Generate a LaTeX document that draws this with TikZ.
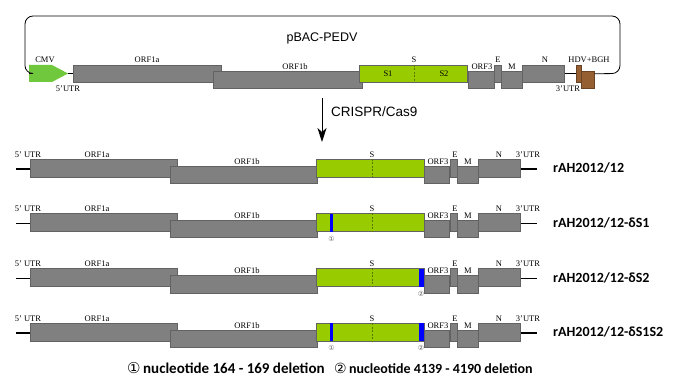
\documentclass[tikz,border=0pt]{standalone}
\usepackage{fontspec}
\usetikzlibrary{arrows.meta}
\setmainfont{Liberation Serif}
\newfontfamily\arialfont{Liberation Sans}
\newfontfamily\califont{Carlito}
\newfontfamily\circfont{DejaVu Sans}

\definecolor{orfgray}{RGB}{128,128,128}
\definecolor{orfedge}{RGB}{98,98,98}
\definecolor{sgreen}{RGB}{153,204,0}
\definecolor{sdash}{RGB}{90,120,0}
\definecolor{cmvgreen}{RGB}{112,200,60}
\definecolor{hdvbrown}{RGB}{150,95,50}
\definecolor{delblue}{RGB}{0,0,255}

\begin{document}
\begin{tikzpicture}[x=1pt, y=-1pt,
    orf/.style 2 args = {draw=orfedge, fill=orfgray, line width=0.5pt, inner sep=0pt,
        anchor=north west, minimum width=#1pt, minimum height=#2pt},
    sgene/.style 2 args = {orf={#1}{#2}, fill=sgreen},
    hdv/.style 2 args = {orf={#1}{#2}, fill=hdvbrown, draw=hdvbrown!70!black},
    del/.style = {fill=delblue, inner sep=0pt, anchor=north west,
        minimum width=3.5pt, minimum height=18pt},
    lab/.style = {font=\fontsize{8.5}{10}\selectfont, inner sep=0pt, anchor=south},
    circ/.style = {font=\circfont\fontsize{7}{8}\selectfont, text=black!60, inner sep=0pt},
    stub/.style = {line width=1.6pt},
    rowname/.style = {font=\califont\bfseries\fontsize{14}{16}\selectfont, inner sep=0pt, anchor=west},
    legend/.style = {font=\califont\bfseries\fontsize{15}{17}\selectfont, inner sep=0pt, anchor=west}]
    \useasboundingbox (0,0) rectangle (683,382);

    % pBAC-PEDV construct
    \fill[cmvgreen] (29,65) -- (52,65) -- (68,73.5) -- (52,82) -- (29,82) -- cycle;
    \coordinate (cmvtail) at (29,73.5);
    \coordinate (cmvtip) at (68,73.5);
    \node[orf={148}{17}] (a0) at (73,65) {};
    \node[orf={149}{17}] (b0) at (213,71) {};
    \node[sgene={108}{17}] (s0) at (359,65) {};
    \node[orf={26}{17}] (o0) at (468,71) {};
    \node[orf={7}{17}] (e0) at (494,65) {};
    \node[orf={21}{17}] (m0) at (501,71) {};
    \node[orf={42}{17}] (n0) at (522,65) {};
    \node[hdv={5}{17}] (hdv) at (576,65) {};
    \node[hdv={13}{17}] (bgh) at (581,71) {};
    \draw[sdash, dash pattern=on 2pt off 1.5pt] (s0.north -| 414,0) -- (s0.south -| 414,0);

    \draw[line width=0.8pt] (cmvtip) -- (a0.west |- cmvtip);
    \draw[line width=0.8pt] (n0.east) -- (hdv.west);
    \draw[line width=0.8pt, rounded corners=8pt] (bgh.east |- hdv.east) -- (620,73.5)
        -- (620,16) -- (25,16) -- (25,73.5) -- (cmvtail);

    \node[font=\arialfont\fontsize{12.5}{14}\selectfont] (title) at (322,38) {pBAC-PEDV};
    \node[lab] (lcmv) at (45,63) {CMV};
    \node[lab] (la0) at (147,63) {ORF1a};
    \node[lab] (lb0) at (295,69.5) {ORF1b};
    \node[lab] (ls0) at (414,63) {S};
    \node[lab, anchor=center] (ls1) at (388,73.5) {S1};
    \node[lab, anchor=center] (ls2) at (444,73.5) {S2};
    \node[lab] (lo0) at (482,69.5) {ORF3};
    \node[lab] (le0) at (498,63) {E};
    \node[lab] (lm0) at (512,69.5) {M};
    \node[lab] (ln0) at (545,63) {N};
    \node[lab] (lhdv) at (589,63) {HDV+BGH};
    \node[lab, anchor=north] (l5u0) at (68,85.5) {5’UTR};
    \node[lab, anchor=north] (l3u0) at (568,85.5) {3’UTR};

    % CRISPR/Cas9 step
    \coordinate (arrtop) at (322,98);
    \coordinate (arrbot) at (322,142);
    \draw[line width=0.9pt, -{Stealth[length=14pt, width=9pt, inset=4pt]}] (arrtop) -- (arrbot);
    \node[font=\arialfont\fontsize{13.5}{15}\selectfont, inner sep=0pt, anchor=west]
        (crispr) at (331,112) {CRISPR/Cas9};

    % recombinant genomes
    \foreach \r/\y/\nm in {1/159/{rAH2012/12}, 2/213.5/{rAH2012/12-δS1},
                           3/268.5/{rAH2012/12-δS2}, 4/323/{rAH2012/12-δS1S2}} {
        \node[orf={147}{18}] (a\r) at (30,\y) {};
        \node[orf={147}{17}] (b\r) at (170,\y+7) {};
        \node[sgene={108}{18}] (s\r) at (316,\y) {};
        \node[orf={25}{17}] (o\r) at (424,\y+7) {};
        \node[orf={7}{18}] (e\r) at (450,\y) {};
        \node[orf={21}{17}] (m\r) at (457,\y+7) {};
        \node[orf={42}{18}] (n\r) at (478,\y) {};
        \coordinate (u5\r) at (16,\y+10);
        \coordinate (u3\r) at (537,\y+10);
        \draw[stub] (u5\r) -- (a\r.west |- u5\r);
        \draw[stub] (n\r.east |- u3\r) -- (u3\r);
        \draw[sdash, dash pattern=on 2pt off 1.5pt] (s\r.north -| 372,0) -- (s\r.south -| 372,0);

        \node[lab] (l5u\r) at (28,\y-1.5) {5’ UTR};
        \node[lab] (la\r) at (97,\y-1.5) {ORF1a};
        \node[lab] (lb\r) at (247,\y+5.5) {ORF1b};
        \node[lab] (ls\r) at (372,\y-1.5) {S};
        \node[lab] (lo\r) at (438,\y+5.5) {ORF3};
        \node[lab] (le\r) at (455,\y-1.5) {E};
        \node[lab] (lm\r) at (468,\y+5.5) {M};
        \node[lab] (ln\r) at (499,\y-1.5) {N};
        \node[lab] (l3u\r) at (528,\y-1.5) {3’UTR};
        \node[rowname] (name\r) at (553,\y+9) {\nm};
    }

    % deleted regions
    \node[del] (d1r2) at (329.5,213.5) {};
    \node[circ] (c1r2) at (331.5,238.5) {①};
    \node[del, minimum width=5.5pt] (d2r3) at (418.5,268.5) {};
    \node[circ] (c2r3) at (421,293.5) {②};
    \node[del] (d1r4) at (329.5,323) {};
    \node[circ] (c1r4) at (331.5,348) {①};
    \node[del, minimum width=5.5pt] (d2r4) at (418.5,323) {};
    \node[circ] (c2r4) at (421,348) {②};

    \node[legend] (leg1) at (127,368) {{\circfont\mdseries ①}\,nucleotide 164 - 169 deletion};
    \node[legend, font=\califont\bfseries\fontsize{14}{16}\selectfont] (leg2) at (334,368)
        {{\circfont\mdseries ②}\,nucleotide 4139 - 4190 deletion};
\end{tikzpicture}
\end{document}
